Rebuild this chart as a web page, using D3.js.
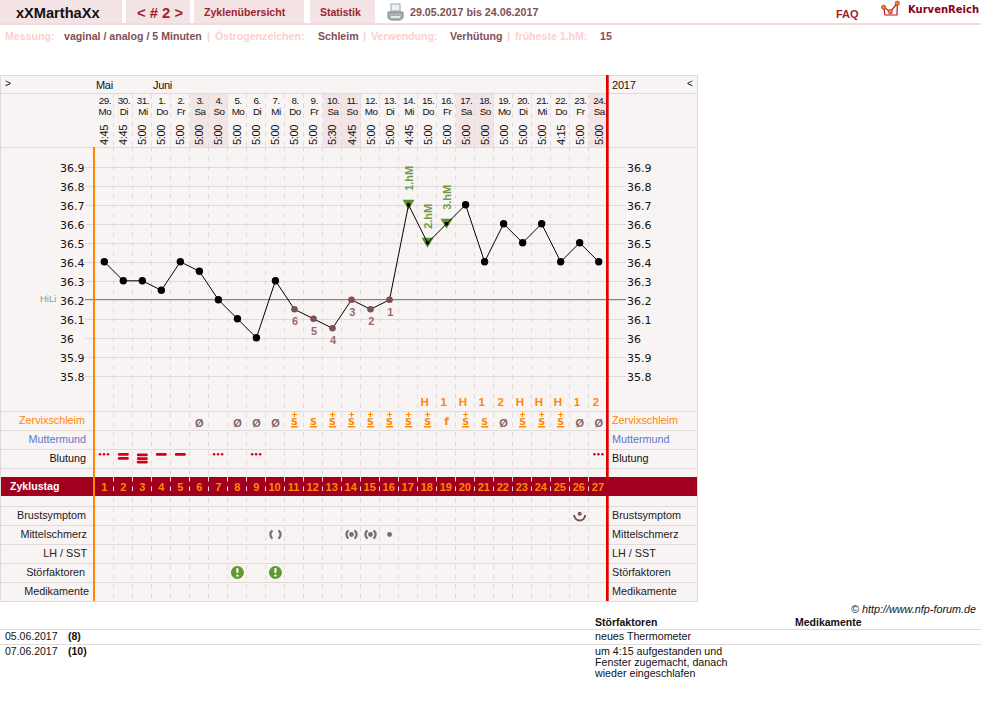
<!DOCTYPE html>
<html lang="de">
<head>
<meta charset="utf-8">
<title>Zyklus 2 – Temperaturkurve</title>
<script src="https://cdn.jsdelivr.net/npm/d3@7"></script>
<style>
  html, body { margin: 0; padding: 0; background: #fff; }
  svg { display: block; }
  text { font-family: "Liberation Sans", Arial, sans-serif; font-size: 11px; }
</style>
</head>
<body>
<div id="chart"></div>
<script>
// Cycle data
const dayNumbers = ["29.","30.","31.","1.","2.","3.","4.","5.","6.","7.","8.","9.","10.","11.","12.","13.","14.","15.","16.","17.","18.","19.","20.","21.","22.","23.","24."];
const weekdays = ["Mo","Di","Mi","Do","Fr","Sa","So","Mo","Di","Mi","Do","Fr","Sa","So","Mo","Di","Mi","Do","Fr","Sa","So","Mo","Di","Mi","Do","Fr","Sa"];
const times = ["4:45","4:45","5:00","5:00","5:00","5:00","5:00","5:00","5:00","5:00","5:00","5:00","5:30","4:45","5:00","5:00","4:45","5:00","5:00","5:00","5:00","5:00","5:00","5:00","4:15","5:00","5:00"];
const temperatures = [36.4,36.3,36.3,36.25,36.4,36.35,36.2,36.1,36.0,36.3,36.15,36.1,36.05,36.2,36.15,36.2,36.7,36.5,36.6,36.7,36.4,36.6,36.5,36.6,36.4,36.5,36.4];
const tempTicks = [36.9,36.8,36.7,36.6,36.5,36.4,36.3,36.2,36.1,36.0,35.9,35.8];
const coverLine = 36.2;
const lowCounts = {10:"6",11:"5",12:"4",13:"3",14:"2",15:"1"};
const highMarks = {16:"1.hM",17:"2.hM",18:"3.hM"};
const peakCodes = ["","","","","","","","","","","","","","","","","","H","1","H","1","2","H","H","H","1","2"];
const mucus = ["","","","","","Ø","","Ø","Ø","Ø","S+","S","S+","S+","S+","S+","S+","S+","f","S+","S","Ø","S+","S+","S+","Ø","Ø"];
const bleeding = ["s",2,3,1,1,"","s","","s","","","","","","","","","","","","","","","","","","s"];
const breast = {25:"mid"};
const midPain = {9:"ring",13:"both",14:"both",15:"dot"};
const disturbances = [7,9];
const cycleDays = d3.range(1,28);
const monthMarks = [["Mai",0],["Juni",3]];
const rowLabelsUpper = ["Zervixschleim","Muttermund","Blutung"];
const rowLabelsLower = ["Brustsymptom","Mittelschmerz","LH / SST","Störfaktoren","Medikamente"];
const notes = [
  {date:"05.06.2017", day:"(8)", lines:["neues Thermometer"]},
  {date:"07.06.2017", day:"(10)", lines:["um 4:15 aufgestanden und","Fenster zugemacht, danach","wieder eingeschlafen"]}
];

const W = 981, H = 709;
const C = {bg:"#f9f4f4", grid:"#dfdbdb", tab:"#f3e3e4", tabLine:"#f1dcdd", wine:"#a01e2e", brown:"#7f4f55",
  pale:"#fbd0d0", orange:"#ff8800", red:"#e00000", band:"#a0001e", green:"#5f8f2f", blue:"#5a78c8", grey:"#6f6f6f"};

const svg = d3.select("#chart").append("svg").attr("width",W).attr("height",H);
const x = d3.scaleLinear().domain([0,26]).range([104.3,598.7]);
const y = d3.scaleLinear().domain([36.9,35.8]).range([167.5,376.5]);
const py = v => y(v) - 0.7;
const step = x(1)-x(0);
const sep = i => Math.round(x(i)+step/2)-0.5;

function label(g, str, px, py2, o={}) {
  const t = g.append("text").attr("x",px).attr("y",py2).text(str)
    .attr("fill",o.fill||"#111").attr("font-size",o.size||11)
    .attr("font-weight",o.bold?"bold":null).attr("text-anchor",o.anchor||"start")
    .style("font-size",(o.size||11)+"px");
  if (o.spacing!=null) t.attr("letter-spacing",o.spacing);
  if (o.family) t.style("font-family",o.family);
  if (o.italic) t.attr("font-style","italic");
  return t;
}

// Page header
const head = svg.append("g");
[[0,122],[126,190],[194,304],[310,375]].forEach(([a,b]) =>
  head.append("rect").attr("x",a).attr("y",0).attr("width",b-a).attr("height",23).attr("fill",C.tab));
head.append("rect").attr("x",0).attr("y",23).attr("width",W).attr("height",2).attr("fill",C.tabLine);
label(head,"xXMarthaXx",16,18,{bold:true,size:14.6,fill:"#111"});
label(head,"< # 2 >",137,18,{bold:true,size:14.8,fill:C.wine});
label(head,"Zyklenübersicht",204,16,{bold:true,size:10.6,fill:C.wine});
label(head,"Statistik",320,16,{bold:true,size:10.5,fill:C.wine});
label(head,"29.05.2017 bis 24.06.2017",410,16,{bold:true,size:10.7,fill:C.brown});
label(head,"FAQ",836,18,{bold:true,size:11,fill:C.wine});
label(head,"KurvenReich",908,13,{bold:true,size:10,fill:"#8c0018",family:"'DejaVu Sans'"});

// Printer icon
const pr = head.append("g");
pr.append("rect").attr("x",391).attr("y",4).attr("width",9).attr("height",7).attr("fill","#eef1f4").attr("stroke","#9aa4ad");
pr.append("path").attr("d","M388 12 L403 12 L403 18 L400 20 L391 20 L388 18 Z").attr("fill","#a9b0b6").attr("stroke","#7d868d");
pr.append("rect").attr("x",391).attr("y",16).attr("width",9).attr("height",2).attr("fill","#e6e9ec");

// Logo mark
const logo = head.append("g");
logo.append("path").attr("d","M883.7 7.3 L885 15 L897 15 L897.3 3.3 L890.3 11.7 L883.7 7.3").attr("fill","none").attr("stroke","#b8123c").attr("stroke-width",1.2);
[[883.7,7.3],[890.3,11.7],[897.3,3.3]].forEach(([a,b]) =>
  logo.append("circle").attr("cx",a).attr("cy",b).attr("r",2.2).attr("fill","#f08a10").attr("stroke","#b8123c").attr("stroke-width",.6));

// Settings line
const info = [["Messung:",5,"p"],["vaginal / analog / 5 Minuten",64,"v"],["|",207,"p"],["Östrogenzeichen:",215,"p"],["Schleim",318,"v"],["|",363,"p"],["Verwendung:",371,"p"],["Verhütung",450,"v"],["|",507,"p"],["früheste 1.hM:",515,"p"],["15",600,"v"]];
info.forEach(([s,px,k]) => label(head,s,px,40,{bold:true,size:10.6,fill:k==="p"?C.pale:C.brown}));

// Chart panel
const panel = svg.append("g");
panel.append("rect").attr("x",0.5).attr("y",75.5).attr("width",697).attr("height",526).attr("fill",C.bg).attr("stroke",C.grid);

// Weekend shading in the date header
d3.range(27).filter(i => weekdays[i]==="Sa"||weekdays[i]==="So").forEach(i =>
  panel.append("rect").attr("x",sep(i-1)+.5).attr("y",94).attr("width",step).attr("height",53).attr("fill","#f3e4e6"));

// Row separators
[93,147,411,430,449,468,506,525,544,563,582].forEach(v =>
  panel.append("line").attr("x1",1).attr("x2",697).attr("y1",v+.5).attr("y2",v+.5).attr("stroke",C.grid));

// Day column separators
d3.range(26).forEach(i => {
  panel.append("line").attr("x1",sep(i)).attr("x2",sep(i)).attr("y1",147).attr("y2",601).attr("stroke",C.grid).attr("stroke-dasharray","4.5 5");
  panel.append("line").attr("x1",sep(i)).attr("x2",sep(i)).attr("y1",94).attr("y2",147).attr("stroke",C.grid).attr("stroke-dasharray","4.5 5");
});

// Temperature grid and axis labels
tempTicks.forEach(t => {
  panel.append("line").attr("x1",85).attr("x2",626).attr("y1",y(t)).attr("y2",y(t)).attr("stroke",C.grid);
  const s = t===36 ? "36" : d3.format(".1f")(t);
  label(panel,s,60,y(t)+4,{family:"'DejaVu Sans'",size:11});
  label(panel,s,627,y(t)+4,{family:"'DejaVu Sans'",size:11});
});
panel.append("line").attr("x1",85).attr("x2",626).attr("y1",y(coverLine)-1).attr("y2",y(coverLine)-1).attr("stroke","#6f9a45");
label(panel,"HiLi",40,302,{size:9.5,fill:"#7fa860"});

// Cycle day band
panel.append("rect").attr("x",1).attr("y",477).attr("width",696).attr("height",19).attr("fill",C.band);
d3.range(26).forEach(i =>
  panel.append("line").attr("x1",sep(i)).attr("x2",sep(i)).attr("y1",477).attr("y2",496).attr("stroke","#f2d9dc").attr("stroke-dasharray","4.5 5"));
label(panel,"Zyklustag",10,490,{bold:true,size:10.6,fill:"#fff"});
cycleDays.forEach((d,i) => label(panel,String(d),x(i)-(d>9?.8:0),491,{anchor:"middle",bold:true,size:11,fill:C.orange}));

// Verticals at the start and end of the cycle
panel.append("rect").attr("x",93).attr("y",147).attr("width",2).attr("height",454).attr("fill",C.orange);
panel.append("rect").attr("x",606).attr("y",75).attr("width",2.7).attr("height",402).attr("fill",C.red);
panel.append("rect").attr("x",606).attr("y",496).attr("width",2.7).attr("height",105).attr("fill",C.red);

// Date header text
label(panel,">",5,87,{size:10});
label(panel,"<",687,87,{size:10});
monthMarks.forEach(([m,i]) => label(panel,m,i===0?96:153,89,{spacing:-.3}));
label(panel,"2017",612,89,{spacing:-.2});
const hdr = panel.append("g");
dayNumbers.forEach((d,i) => {
  label(hdr,d,x(i)+.6,104.4,{anchor:"middle",size:9.8,spacing:-.5});
  label(hdr,weekdays[i],x(i)+.6,115.4,{anchor:"middle",size:9.8,spacing:-.5});
  label(hdr,times[i],0,0,{anchor:"middle",size:11,spacing:-.3})
    .attr("transform",`translate(${x(i)+4},135) rotate(-90)`);
});

// Row titles on both sides
const rowTitle = (s,row,fill,end) => {
  label(panel,s,end,row,{anchor:"end",fill,size:10.8});
  label(panel,s,612,row,{fill,size:10.8});
};
const upperEnds = [85,86,86], lowerEnds = [86,87,87,85,89];
rowTitle(rowLabelsUpper[0],424,C.orange,upperEnds[0]);
rowTitle(rowLabelsUpper[1],443,C.blue,upperEnds[1]);
rowTitle(rowLabelsUpper[2],462,"#111",upperEnds[2]);
rowLabelsLower.forEach((s,k) => rowTitle(s,519+19*k,"#222",lowerEnds[k]));

// Temperature curve
const curve = svg.append("g");
Object.keys(highMarks).forEach(k => {
  const i = +k, cy = py(temperatures[i]);
  curve.append("path").attr("d",`M${x(i)-6} ${cy-5} H${x(i)+6} L${x(i)} ${cy+5} Z`).attr("fill",C.green);
  label(curve,highMarks[k],0,0,{bold:true,size:11,fill:"#6f9a45"})
    .attr("transform",`translate(${x(i)+4},${cy-14}) rotate(-90)`);
});
curve.append("path").datum(temperatures)
  .attr("d",d3.line().x((d,i)=>x(i)).y(d=>py(d)))
  .attr("fill","none").attr("stroke","#000").attr("stroke-width",1);
curve.selectAll("circle.t").data(temperatures).enter().append("circle").attr("class","t")
  .attr("cx",(d,i)=>x(i)).attr("cy",d=>py(d))
  .attr("r",(d,i)=> highMarks[i]?2:(lowCounts[i]?3.3:3.7))
  .attr("fill",(d,i)=> lowCounts[i]?C.brown:"#000");
Object.keys(lowCounts).forEach(k => {
  const i = +k;
  label(curve,lowCounts[k],x(i)+.7,py(temperatures[i])+16,{anchor:"middle",bold:true,size:11,fill:"#9a6a70"});
});

// Peak day and mucus rows
peakCodes.forEach((c,i) => { if (c) label(curve,c,x(i)-2.8,406,{anchor:"middle",bold:true,size:11.5,fill:C.orange}); });
mucus.forEach((m,i) => {
  if (!m) return;
  if (m==="Ø") { label(curve,"Ø",x(i),427,{anchor:"middle",bold:true,size:11,fill:"#806064"}); return; }
  label(curve,m[0],x(i),425,{anchor:"middle",bold:true,size:m[0]==="f"?11:9.5,fill:C.orange,family:"'DejaVu Sans'"});
  if (m[0]==="S") curve.append("rect").attr("x",x(i)-3.6).attr("y",426).attr("width",7.2).attr("height",1.5).attr("fill",C.orange);
  if (m[1]==="+") {
    curve.append("path").attr("d",`M${x(i)-2.5} 414.5 h5 M${x(i)} 412 v5`).attr("stroke",C.orange).attr("fill","none");
  }
});

// Bleeding row
bleeding.forEach((b,i) => {
  if (b==="s") {
    [-4,0,4].forEach(dx => curve.append("circle").attr("cx",x(i)+dx-.3).attr("cy",454.3).attr("r",1.3).attr("fill","#d8001c"));
  } else if (b) {
    d3.range(b).forEach(k => curve.append("rect").attr("x",x(i)-5.5).attr("y",(b===3?453.6:453)+k*(b===3?3.6:4)).attr("width",11).attr("height",2.7).attr("rx",1.3).attr("fill","#d0001c"));
  }
});

// Symptom symbols
const arc = d3.arc();
const sideArc = (cx,cy,sign,r,color,w) => curve.append("path")
  .attr("transform",`translate(${cx},${cy})`)
  .attr("d",arc({innerRadius:r-w,outerRadius:r,startAngle:sign*Math.PI*.2,endAngle:sign*Math.PI*.8}))
  .attr("fill",color);
Object.keys(breast).forEach(k => {
  const i = +k, cy = 515;
  curve.append("path").attr("transform",`translate(${x(i)},${cy})`)
    .attr("d",arc({innerRadius:4.5,outerRadius:6.5,startAngle:Math.PI*.5,endAngle:Math.PI*1.5})).attr("fill",C.brown);
  curve.append("circle").attr("cx",x(i)).attr("cy",cy-1.2).attr("r",2).attr("fill",C.brown);
});
Object.keys(midPain).forEach(k => {
  const i = +k, cy = 534.5, kind = midPain[k];
  if (kind!=="dot") { sideArc(x(i),cy,1,6.2,C.grey,2.2); sideArc(x(i),cy,-1,6.2,C.grey,2.2); }
  if (kind!=="ring") curve.append("circle").attr("cx",x(i)).attr("cy",cy).attr("r",2.4).attr("fill",C.grey);
});
disturbances.forEach(i => {
  curve.append("circle").attr("cx",x(i)).attr("cy",572.5).attr("r",6.5).attr("fill","#5f9a2f");
  curve.append("rect").attr("x",x(i)-1.1).attr("y",568).attr("width",2.2).attr("height",5).attr("rx",1).attr("fill","#fff");
  curve.append("circle").attr("cx",x(i)).attr("cy",575.6).attr("r",1.2).attr("fill","#fff");
});

// Notes table
const foot = svg.append("g");
label(foot,"© http://www.nfp-forum.de",976,613,{anchor:"end",italic:true,size:10.8});
label(foot,"Störfaktoren",595,626,{bold:true,size:10.5});
label(foot,"Medikamente",795,626,{bold:true,size:10.5});
[629,644].forEach(v => foot.append("line").attr("x1",0).attr("x2",W).attr("y1",v+.5).attr("y2",v+.5).attr("stroke",C.grid));
const noteRows = [640,655];
notes.forEach((n,r) => {
  label(foot,n.date,5,noteRows[r],{size:10.5});
  label(foot,n.day,68,noteRows[r],{size:10.5,bold:true});
  n.lines.forEach((s,k) => label(foot,s,595,noteRows[r]+k*11,{size:10.7}));
});
</script>
</body>
</html>
